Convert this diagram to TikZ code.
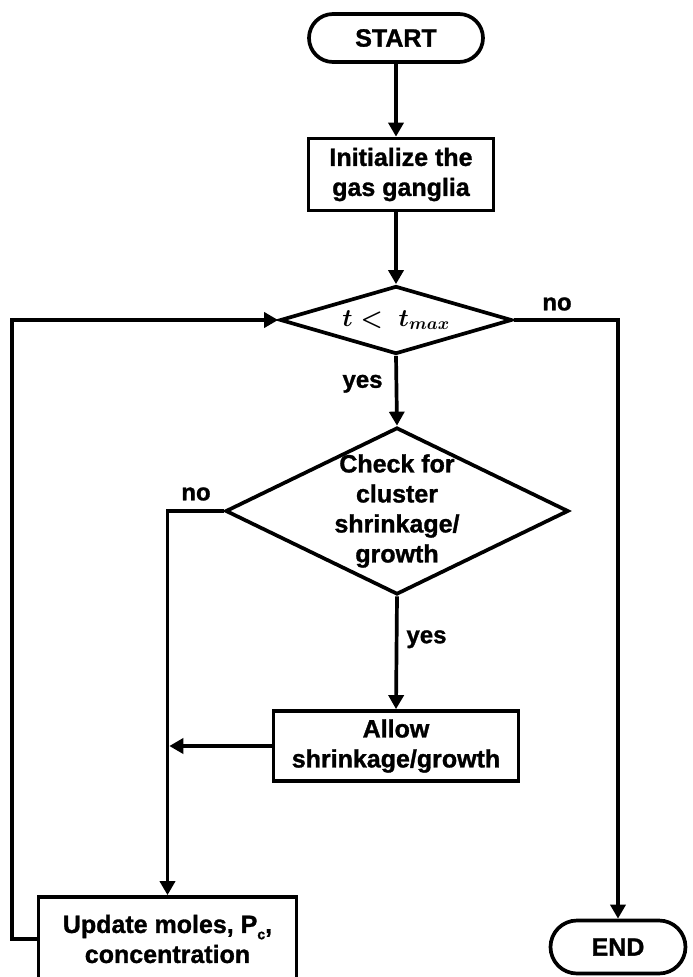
\documentclass[tikz,border=0pt]{standalone}
\usepackage{fontspec}
\setmainfont{Liberation Sans}[BoldFeatures={FakeBold=1.2}]
\usetikzlibrary{shapes.misc,shapes.geometric,arrows.meta}
\begin{document}
\begin{tikzpicture}[x=1pt,y=-1pt,
  every node/.style={font=\fontsize{25}{30}\selectfont\bfseries, align=center, line width=3.7pt, inner sep=0pt},
  box/.style={draw, rectangle},
  term/.style={draw, rounded rectangle},
  dec/.style={draw, diamond},
  arr/.style={line width=3.7pt, -{Triangle[length=14pt,width=15pt]}},
  lbl/.style={font=\fontsize{24}{28}\selectfont\bfseries}
]
\useasboundingbox (0,0) rectangle (693,977);
\node[term, minimum width=174pt, minimum height=48pt] (start) at (396,38) {START};
\node[box, minimum width=185pt, minimum height=72pt] (init) at (401,174.5) {Initialize the\\gas ganglia};
\node[dec, minimum width=232pt, minimum height=68pt, label={[font=\fontsize{24}{28}\selectfont\boldmath]center:{$t<\;t_{max}$}}] (d1) at (396,320) {};
\node[dec, minimum width=343pt, minimum height=167pt, label={center:{Check for\\cluster\\shrinkage/\\growth}}] (d2) at (397,511) {};
\node[box, minimum width=245pt, minimum height=70pt] (allow) at (396,746) {Allow\\shrinkage/growth};
\node[box, minimum width=258pt, minimum height=84pt] (upd) at (167.5,939) {Update moles, P\raisebox{-0.25em}{\fontsize{14}{14}\selectfont c},\\concentration};
\node[term, minimum width=135pt, minimum height=53pt] (end) at (618,947) {END};
\coordinate (lp) at (12,937);
\draw[arr] (start.south) -- (start.south |- init.north);
\draw[arr] (d1.north |- init.south) -- (d1.north);
\draw[arr] (d1.south) -- (d2.north) node[pos=0.4, left=12pt, lbl] (yes1) {yes};
\draw[arr] (d2.south) -- (allow.north) node[pos=0.38, right=8pt, lbl] (yes2) {yes};
\draw[arr] (d1.east) -| (end.north);
\node[lbl] (no1) at (557,304) {no};
\draw[arr] (d2.west) -| (upd.north);
\node[lbl] (no2) at (196,494) {no};
\draw[arr, shorten >=1.8pt] (allow.west) -- (allow.west -| upd.north);
\draw[arr] (upd.west) -- (upd.west -| lp) |- (d1.west);
\end{tikzpicture}
\end{document}
